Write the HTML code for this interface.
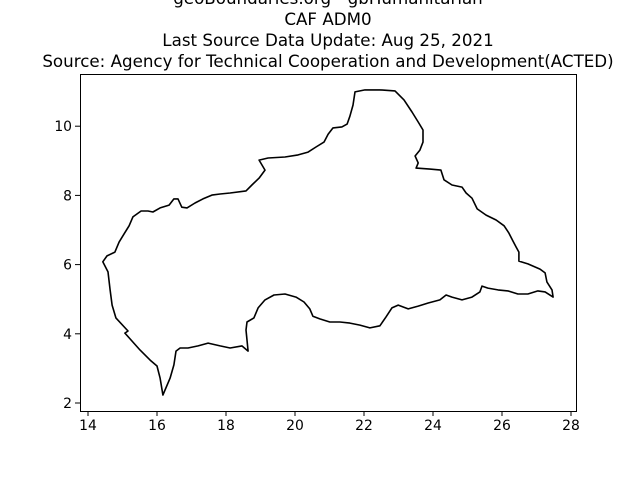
<!DOCTYPE html>
<html><head><meta charset="utf-8"><style>
html,body{margin:0;padding:0;background:#fff;}
svg{display:block;font-family:"DejaVu Sans","Liberation Sans",sans-serif;}
</style></head><body>
<svg id="chart" width="640" height="480" viewBox="0 0 640 480" xmlns="http://www.w3.org/2000/svg">
<g font-size="16.7" text-anchor="middle" fill="#000">
<text x="328" y="4">geoBoundaries.org - gbHumanitarian</text>
<text x="328" y="25">CAF ADM0</text>
<text x="328" y="46">Last Source Data Update: Aug 25, 2021</text>
<text x="328" y="67">Source: Agency for Technical Cooperation and Development(ACTED)</text>
</g>
<rect x="80.5" y="74.5" width="496" height="337" fill="none" stroke="#000" stroke-width="1"/>
<g id="xticks"></g>
<g id="yticks"></g>
<path id="outline" fill="none" stroke="#000" stroke-width="1.6" stroke-linejoin="round"/>
</svg>
<script>
const xTickValues=[14,16,18,20,22,24,26,28];
const yTickValues=[2,4,6,8,10];
const boundaryLon=[14.43,14.55,14.78,14.90,15.04,15.19,15.30,15.54,15.74,15.88,16.09,16.35,16.49,16.61,16.72,16.87,17.10,17.33,17.59,17.83,18.12,18.58,18.75,18.96,19.13,18.96,19.22,19.71,20.09,20.38,20.61,20.84,20.96,21.10,21.36,21.51,21.59,21.68,21.74,22.03,22.46,22.90,23.16,23.39,23.57,23.71,23.71,23.62,23.48,23.57,23.51,23.91,24.23,24.32,24.55,24.84,24.96,25.13,25.28,25.54,25.83,26.06,26.20,26.32,26.41,26.49,26.49,26.75,27.10,27.25,27.30,27.45,27.48,27.25,27.04,26.75,26.46,26.17,25.88,25.59,25.42,25.36,25.13,24.84,24.55,24.38,24.20,23.86,23.57,23.28,22.99,22.81,22.64,22.46,22.17,21.88,21.59,21.30,21.01,20.72,20.52,20.43,20.26,20.03,19.71,19.39,19.13,18.93,18.81,18.61,18.58,18.64,18.46,18.12,17.83,17.48,17.19,16.90,16.67,16.55,16.49,16.38,16.17,16.09,16.00,15.80,15.51,15.07,15.16,14.81,14.70,14.64,14.58,14.43];
const boundaryLat=[6.08,6.25,6.36,6.65,6.88,7.12,7.38,7.55,7.55,7.52,7.64,7.72,7.90,7.90,7.66,7.64,7.78,7.90,8.01,8.04,8.07,8.13,8.30,8.50,8.73,9.02,9.08,9.11,9.17,9.25,9.40,9.54,9.77,9.95,9.98,10.06,10.29,10.61,10.99,11.05,11.05,11.02,10.76,10.41,10.12,9.89,9.54,9.31,9.14,8.94,8.79,8.76,8.73,8.45,8.30,8.24,8.07,7.92,7.61,7.43,7.29,7.12,6.91,6.68,6.51,6.36,6.10,6.02,5.87,5.76,5.50,5.27,5.06,5.21,5.24,5.15,5.15,5.24,5.27,5.32,5.38,5.21,5.06,4.98,5.06,5.12,4.98,4.89,4.80,4.72,4.83,4.75,4.49,4.23,4.17,4.25,4.31,4.34,4.34,4.43,4.51,4.72,4.92,5.06,5.15,5.12,4.98,4.75,4.46,4.34,4.11,3.50,3.65,3.59,3.65,3.73,3.65,3.59,3.59,3.50,3.10,2.72,2.23,2.72,3.07,3.24,3.53,4.02,4.08,4.46,4.83,5.27,5.79,6.08];
const NS='http://www.w3.org/2000/svg';
function xScale(v){return 88+(v-14)*34.5;}
function yScale(v){return 403-(v-2)*34.6;}
const xg=document.getElementById('xticks');
xTickValues.forEach(v=>{
  const x=xScale(v);
  const t=document.createElementNS(NS,'line');
  t.setAttribute('x1',x);t.setAttribute('x2',x);t.setAttribute('y1',411);t.setAttribute('y2',416);t.setAttribute('stroke','#000');
  
  
  xg.appendChild(t);
  const l=document.createElementNS(NS,'text');
  l.setAttribute('x',x);l.setAttribute('y',430);l.setAttribute('text-anchor','middle');l.setAttribute('font-size','13.9');
  l.textContent=v;
  
  
  xg.appendChild(l);
});
const yg=document.getElementById('yticks');
yTickValues.forEach(v=>{
  const y=yScale(v);
  const t=document.createElementNS(NS,'line');
  t.setAttribute('x1',75);t.setAttribute('x2',80);t.setAttribute('y1',y);t.setAttribute('y2',y);t.setAttribute('stroke','#000');
  
  
  yg.appendChild(t);
  const l=document.createElementNS(NS,'text');
  l.setAttribute('x',72);l.setAttribute('y',y+5);l.setAttribute('text-anchor','end');l.setAttribute('font-size','13.9');
  l.textContent=v;
  
  
  yg.appendChild(l);
});
let d='';
boundaryLon.forEach((lon,i)=>{d+=(i?'L':'M')+xScale(lon).toFixed(1)+' '+yScale(boundaryLat[i]).toFixed(1)+' ';});
document.getElementById('outline').setAttribute('d',d+'Z');
</script>
</body></html>
